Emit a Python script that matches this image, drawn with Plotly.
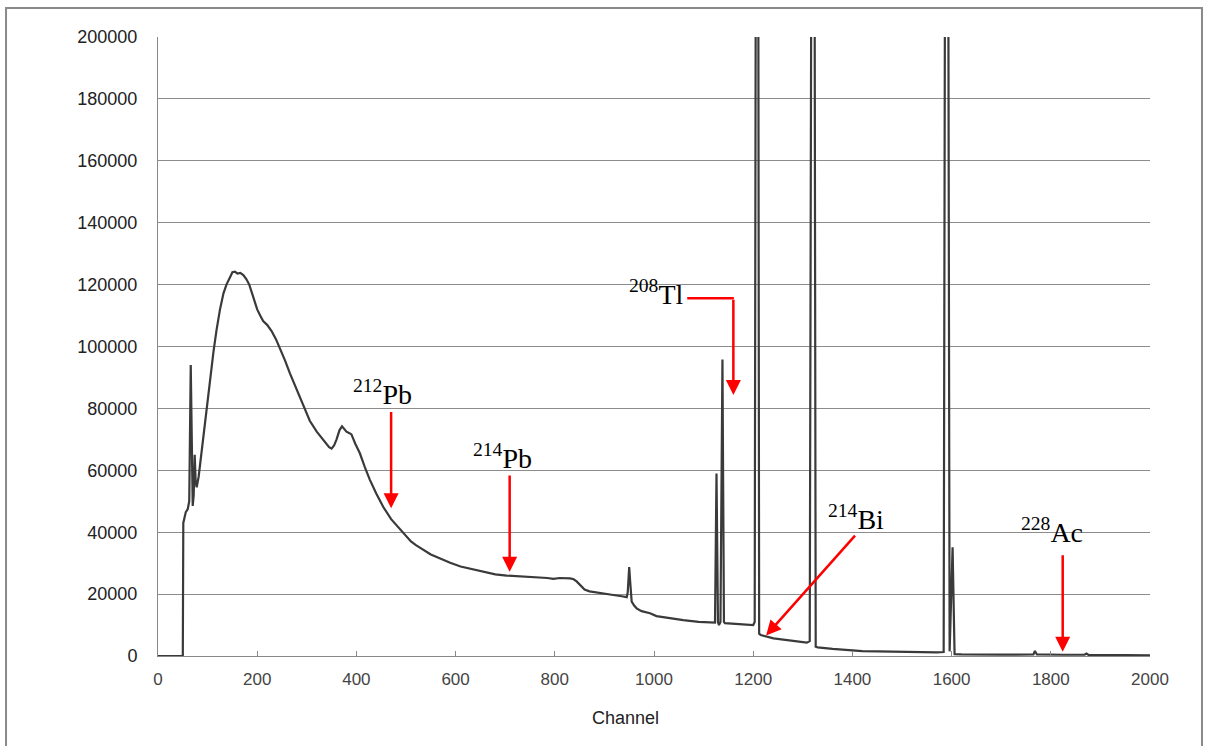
import plotly.graph_objects as go

# Gamma spectrum: counts per channel
channel = [
    0, 48, 50, 51, 53, 56, 60, 63, 66, 68, 70, 72, 74, 76, 78, 82, 86, 91, 98,
    105, 112, 118, 125, 132, 138, 145, 150, 155, 160, 166, 172, 178, 184, 190,
    196, 200, 206, 212, 220, 229, 238, 246, 256, 266, 280, 293, 306, 320, 335,
    345, 350, 355, 360, 366, 371, 376, 380, 386, 390, 398, 407, 417, 427, 440,
    454, 470, 485, 495, 510, 520, 535, 550, 569, 589, 610, 636, 660, 680, 703,
    730, 750, 770, 785, 797, 810, 831, 838, 844, 852, 860, 870, 884, 900, 918,
    935, 945, 947, 950, 952, 955, 960, 965, 975, 992, 1005, 1030, 1059, 1090,
    1120, 1123, 1126, 1129, 1131, 1134, 1138, 1141, 1143, 1160, 1175, 1190,
    1200, 1203, 1208, 1212, 1215, 1241, 1270, 1295, 1308, 1314, 1321, 1326,
    1330, 1360, 1395, 1420, 1450, 1496, 1526, 1530, 1570, 1584, 1590, 1596,
    1602, 1606, 1620, 1700, 1765, 1768, 1772, 1825, 1868, 1872, 1876, 1950,
    2000,
]
counts = [
    0, 0, 0, 43000, 45000, 46500, 47500, 50000, 94000, 60000, 48500, 52000,
    65000, 56000, 54500, 58000, 63500, 71000, 81000, 90300, 98500, 105300,
    112000, 117200, 120000, 122300, 124000, 124200, 123600, 123800, 123100,
    121800, 120000, 117000, 114000, 112000, 110000, 108200, 107000, 105000,
    102300, 99400, 95500, 91300, 86000, 80500, 76000, 72500, 69500, 67500,
    67000, 68000, 70000, 73000, 74200, 73300, 72500, 72000, 71600, 68500,
    65500, 61000, 57000, 52500, 48200, 44200, 41500, 39600, 37000, 35800,
    34200, 32800, 31500, 30100, 28900, 27900, 27000, 26400, 26000, 25800,
    25700, 25500, 25200, 24900, 25200, 25100, 24800, 24100, 22800, 21500,
    20900, 20500, 20100, 19700, 19300, 19000, 20500, 28700, 24000, 17600,
    16300, 15400, 14500, 13800, 12900, 12200, 11600, 11000, 10600, 10800,
    59000, 11000, 10000, 11000, 95800, 11000, 10600, 10400, 10300, 10100,
    10000, 11000, 500000, 7200, 6800, 5700, 5000, 4500, 4300, 4800, 500000,
    3000, 2800, 2300, 1900, 1600, 1500, 1300, 1400, 1200, 1150, 1300, 500000,
    1500, 35100, 600, 500, 450, 500, 1600, 500, 400, 400, 800, 350, 300, 250,
]

x_ticks = list(range(0, 2001, 200))
y_ticks = list(range(0, 200001, 20000))

# Nuclide labels
nuclides = ["<sup>212</sup>Pb", "<sup>214</sup>Pb", "<sup>208</sup>Tl",
            "<sup>214</sup>Bi", "<sup>228</sup>Ac"]

fig = go.Figure()
fig.add_trace(go.Scatter(
    x=channel, y=counts, mode="lines",
    line=dict(color="#3a3a3a", width=2.2),
    showlegend=False, hoverinfo="skip",
))

red = "#ff0000"
serif = dict(family="Liberation Serif, Times New Roman, serif", size=28, color="#000000")

# label placement (channel, count) for each nuclide
label_pos = [(452, 85000), (694, 64300), (1004, 117300), (1408, 44600), (1803, 40400)]
annotations = []
for txt, (lx, ly) in zip(nuclides, label_pos):
    annotations.append(dict(x=lx, y=ly, xref="x", yref="y", text=txt,
                            showarrow=False, font=serif,
                            xanchor="center", yanchor="middle"))

# arrows: (tip channel, tip count, tail channel, tail count)
arrows = [
    (470, 47700, 470, 79300),
    (709, 27200, 709, 58800),
    (1160, 84300, 1160, 115600),
    (1226, 6600, 1408, 39400),
    (1824, 1400, 1824, 33000),
]
for tx, ty, sx, sy in arrows:
    annotations.append(dict(x=tx, y=ty, ax=sx, ay=sy, xref="x", yref="y",
                            axref="x", ayref="y", text="", showarrow=True,
                            arrowhead=2, arrowsize=1.2, arrowwidth=2.5,
                            arrowcolor=red, standoff=0, startstandoff=0))

annotations.append(dict(x=0.4708, y=-0.1, xref="paper", yref="paper",
                        text="Channel", showarrow=False,
                        font=dict(family="Liberation Sans, Arial, sans-serif",
                                  size=18, color="#222222"),
                        xanchor="center", yanchor="middle"))

shapes = [
    # elbow of the 208Tl pointer
    dict(type="line", xref="x", yref="y", x0=1067, y0=115600, x1=1161, y1=115600,
         line=dict(color=red, width=2.5)),
    # outer frame
    dict(type="rect", xref="paper", yref="paper", x0=-0.1532, x1=1.0524,
         y0=-0.16, y1=1.0469, line=dict(color="#8a8a8a", width=2)),
]

fig.update_layout(
    width=1206, height=746,
    margin=dict(l=158, r=56, t=37, b=90),
    paper_bgcolor="white", plot_bgcolor="white",
    annotations=annotations, shapes=shapes,
    xaxis=dict(range=[0, 2000], tickvals=x_ticks, ticks="inside", ticklen=5,
               tickcolor="#888888", showline=True, linecolor="#888888",
               linewidth=1, showgrid=False, zeroline=False,
               tickfont=dict(family="Liberation Sans, Arial, sans-serif",
                             size=17, color="#444444"),
               ticklabelstandoff=8),
    yaxis=dict(range=[0, 200000], tickvals=y_ticks, tickformat="d",
               showgrid=True, gridcolor="#8c8c8c", gridwidth=1,
               showline=True, linecolor="#888888", linewidth=1,
               zeroline=False, ticks="",
               tickfont=dict(family="Liberation Sans, Arial, sans-serif",
                             size=18, color="#222222"),
               ticklabelstandoff=16),
)

fig.write_html("out.html")
